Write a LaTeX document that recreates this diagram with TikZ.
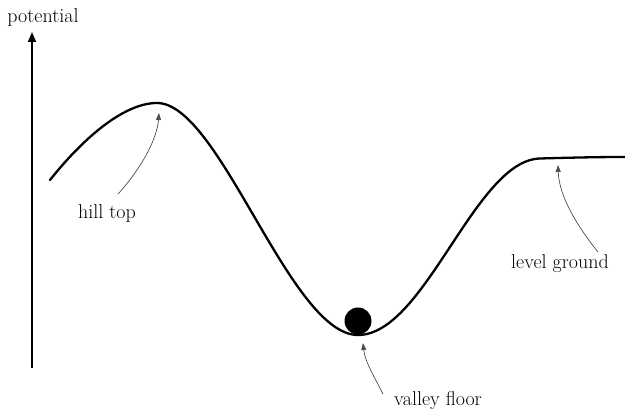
\documentclass[tikz,border=0pt]{standalone}
\usetikzlibrary{arrows.meta}
\begin{document}
\begin{tikzpicture}[x=1pt,y=-1pt,
  lbl/.style={font=\fontsize{20}{24}\selectfont, text=black, inner sep=0pt},
  pointer/.style={line width=0.7pt, draw=black!70, -{Triangle[length=7pt,width=5pt]}},
  curve/.style={line width=2.3pt, line cap=round},
  axis/.style={line width=1.5pt, -{Triangle[length=10pt,width=8pt]}}]
\useasboundingbox (0,0) rectangle (625,411);
% axis
\coordinate (axbot) at (32,368);
\coordinate (axtop) at (32,32);
\draw[axis] (axbot) -- (axtop);
\node[lbl] (potential) at (43,18) {potential};
% potential curve
\draw[curve] (50,180) .. controls (85,136) and (125,103) .. (157,103)
  .. controls (220,103) and (290,335) .. (358,335)
  .. controls (425,335) and (475,160) .. (540,158.5)
  .. controls (575,157.5) and (600,157) .. (625,157);
% ball
\node[circle, fill=black, minimum size=27pt, inner sep=0pt] (ball) at (358,321) {};
% labels
\node[lbl] (hill) at (107,214) {hill top};
\node[lbl] (valley) at (438,401) {valley floor};
\node[lbl] (level) at (560,264) {level ground};
% pointer ends
\coordinate (hilltail) at (118,194);
\coordinate (hilltip) at (159,113);
\coordinate (valleytail) at (383,394);
\coordinate (valleytip) at (363,343);
\coordinate (leveltail) at (598,252);
\coordinate (leveltip) at (558,165);
\draw[pointer] (hilltail) .. controls (140,170) and (157,140) .. (hilltip);
\draw[pointer] (valleytail) .. controls (375,378) and (365,362) .. (valleytip);
\draw[pointer] (leveltail) .. controls (577,226) and (559,196) .. (leveltip);
\end{tikzpicture}
\end{document}
